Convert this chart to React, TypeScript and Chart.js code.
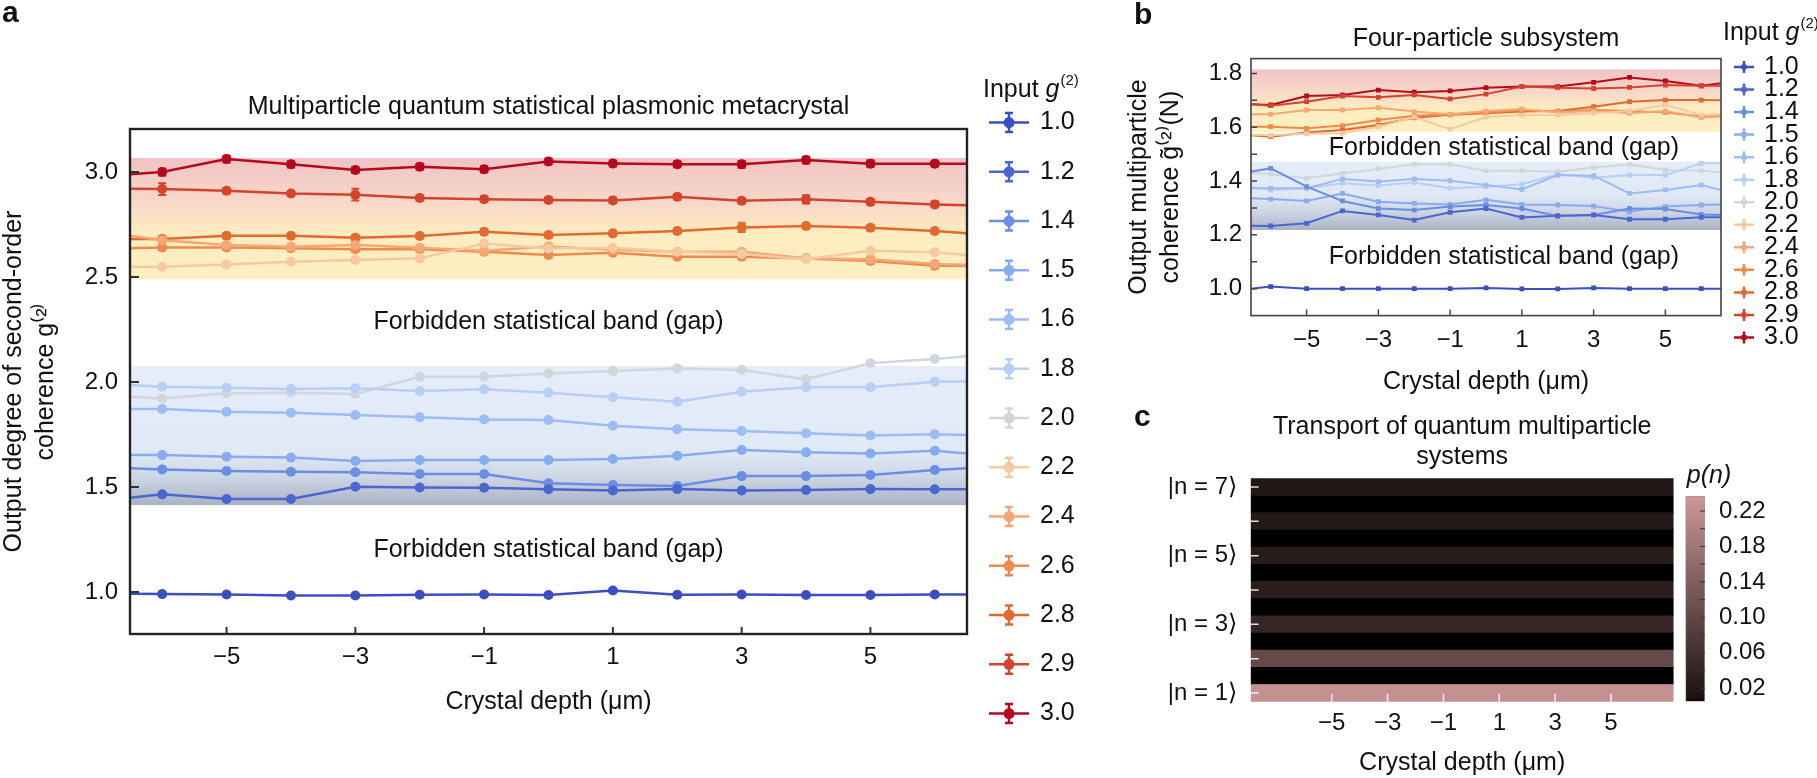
import React, { useEffect, useRef } from "react";
import { Chart, registerables } from "chart.js";

Chart.register(...registerables);

const FONT = "'Liberation Sans', Arial, Helvetica, sans-serif";
Chart.defaults.font.family = FONT;
Chart.defaults.font.size = 24;
Chart.defaults.color = "#111";

const inputs = ["1.0", "1.2", "1.4", "1.5", "1.6", "1.8", "2.0", "2.2", "2.4", "2.6", "2.8", "2.9", "3.0"];
const seriesColors = [
  "#3a4fc0", "#4b66cf", "#6b8ee3", "#88acf0", "#9cbcf4", "#b8cff4", "#d2d5da",
  "#f6c9a0", "#f4a874", "#ef8a4f", "#e2692f", "#d4432c", "#b5091f",
];

// crystal depth (µm); first and last entries are where the lines meet the frame
const depthsA = [-6.5, -6, -5, -4, -3, -2, -1, 0, 1, 2, 3, 4, 5, 6, 6.5];
const depthsB = [-6.55, -6, -5, -4, -3, -2, -1, 0, 1, 2, 3, 4, 5, 6, 6.55];

const xTicks = [-5, -3, -1, 1, 3, 5];
const yTicksA = [1.0, 1.5, 2.0, 2.5, 3.0];
const yTicksB = [1.0, 1.2, 1.4, 1.6, 1.8];
const yMinorB = [1.0, 1.1, 1.2, 1.3, 1.4, 1.5, 1.6, 1.7, 1.8];

// panel a: output g(2) per input g(2)
const a10 = [0.992, 0.99, 0.988, 0.983, 0.983, 0.987, 0.988, 0.986, 1.007, 0.987, 0.988, 0.986, 0.986, 0.988, 0.988];
const a12 = [1.449, 1.465, 1.443, 1.443, 1.501, 1.498, 1.497, 1.489, 1.483, 1.49, 1.483, 1.486, 1.49, 1.489, 1.489];
const a14 = [1.589, 1.584, 1.576, 1.573, 1.57, 1.562, 1.562, 1.518, 1.51, 1.505, 1.552, 1.552, 1.557, 1.581, 1.589];
const a15 = [1.652, 1.652, 1.644, 1.64, 1.624, 1.629, 1.629, 1.629, 1.633, 1.649, 1.676, 1.665, 1.66, 1.673, 1.66];
const a16 = [1.871, 1.871, 1.859, 1.854, 1.843, 1.832, 1.822, 1.819, 1.792, 1.775, 1.767, 1.756, 1.745, 1.751, 1.748];
const a18 = [1.986, 1.978, 1.973, 1.967, 1.97, 1.957, 1.965, 1.949, 1.927, 1.906, 1.954, 1.975, 1.975, 2.001, 2.003];
const a20 = [1.93, 1.922, 1.946, 1.949, 1.943, 2.025, 2.025, 2.041, 2.052, 2.065, 2.057, 2.013, 2.09, 2.11, 2.123];
const a22 = [2.549, 2.549, 2.56, 2.573, 2.581, 2.589, 2.66, 2.636, 2.64, 2.62, 2.61, 2.585, 2.625, 2.618, 2.605];
const a24 = [2.697, 2.675, 2.652, 2.644, 2.652, 2.64, 2.625, 2.645, 2.63, 2.62, 2.62, 2.59, 2.585, 2.562, 2.558];
const a26 = [2.637, 2.641, 2.641, 2.637, 2.632, 2.632, 2.621, 2.605, 2.616, 2.597, 2.597, 2.588, 2.576, 2.554, 2.554];
const a28 = [2.681, 2.681, 2.697, 2.697, 2.687, 2.695, 2.716, 2.7, 2.708, 2.719, 2.736, 2.743, 2.735, 2.719, 2.708];
const a29 = [2.92, 2.919, 2.911, 2.898, 2.892, 2.876, 2.871, 2.867, 2.865, 2.882, 2.863, 2.87, 2.858, 2.846, 2.842];
const a30 = [2.99, 3.0, 3.062, 3.037, 3.01, 3.025, 3.013, 3.05, 3.041, 3.037, 3.037, 3.057, 3.04, 3.04, 3.04];
const seriesA = [a10, a12, a14, a15, a16, a18, a20, a22, a24, a26, a28, a29, a30];

// error bar half-heights (one per series, or one per marker)
const err28 = [0.012, 0.012, 0.012, 0.012, 0.012, 0.012, 0.012, 0.012, 0.012, 0.022, 0.012, 0.012, 0.012];
const err29 = [0.028, 0.012, 0.012, 0.028, 0.012, 0.012, 0.012, 0.012, 0.014, 0.012, 0.02, 0.014, 0.014];
const err30 = [0.016, 0.016, 0.015, 0.014, 0.014, 0.015, 0.014, 0.014, 0.014, 0.016, 0.016, 0.015, 0.012];
const errorsA = [0.008, 0.009, 0.009, 0.009, 0.009, 0.009, 0.009, 0.011, 0.012, 0.012, err28, err29, err30];

// panel b: four-particle coherence
const b10 = [1.0, 1.008, 1.0, 1.0, 1.0, 1.0, 1.0, 1.003, 0.999, 0.999, 1.003, 1.0, 1.0, 1.0, 1.0];
const b12 = [1.234, 1.233, 1.243, 1.289, 1.274, 1.255, 1.284, 1.298, 1.265, 1.271, 1.274, 1.258, 1.258, 1.265, 1.265];
const b14 = [1.435, 1.447, 1.379, 1.326, 1.298, 1.292, 1.305, 1.311, 1.298, 1.27, 1.274, 1.298, 1.296, 1.276, 1.274];
const b15 = [1.336, 1.333, 1.326, 1.354, 1.323, 1.317, 1.313, 1.33, 1.313, 1.311, 1.307, 1.286, 1.305, 1.311, 1.313];
const b16 = [1.373, 1.373, 1.373, 1.408, 1.398, 1.408, 1.401, 1.385, 1.369, 1.422, 1.42, 1.354, 1.367, 1.385, 1.367];
const b18 = [1.379, 1.367, 1.373, 1.392, 1.383, 1.395, 1.373, 1.379, 1.388, 1.425, 1.412, 1.422, 1.422, 1.466, 1.466];
const b20 = [1.432, 1.425, 1.41, 1.429, 1.445, 1.462, 1.462, 1.438, 1.438, 1.435, 1.45, 1.462, 1.441, 1.438, 1.432];
const b22 = [1.572, 1.57, 1.576, 1.578, 1.602, 1.638, 1.593, 1.638, 1.645, 1.645, 1.652, 1.66, 1.683, 1.645, 1.648];
const b24 = [1.648, 1.648, 1.664, 1.664, 1.672, 1.658, 1.648, 1.66, 1.668, 1.655, 1.66, 1.652, 1.66, 1.636, 1.64];
const b26 = [1.602, 1.602, 1.596, 1.606, 1.627, 1.643, 1.648, 1.655, 1.664, 1.658, 1.664, 1.66, 1.655, 1.64, 1.645];
const b28 = [1.57, 1.565, 1.58, 1.59, 1.608, 1.635, 1.646, 1.652, 1.658, 1.66, 1.676, 1.695, 1.701, 1.701, 1.7];
const b29 = [1.685, 1.68, 1.695, 1.716, 1.711, 1.72, 1.705, 1.723, 1.751, 1.747, 1.744, 1.748, 1.757, 1.754, 1.754];
const b30 = [1.685, 1.683, 1.716, 1.72, 1.738, 1.73, 1.735, 1.747, 1.751, 1.751, 1.767, 1.785, 1.772, 1.754, 1.763];
const seriesB = [b10, b12, b14, b15, b16, b18, b20, b22, b24, b26, b28, b29, b30];

// allowed statistical bands [from, to]
const upperBandA = [2.49, 3.067];
const lowerBandA = [1.414, 2.076];
const upperBandB = [1.583, 1.815];
const lowerBandB = [1.218, 1.472];

// panel c: photon-number distribution rows (top to bottom) and their p(n)
const rowsC = ["7", "6.5", "6", "5.5", "5", "4.5", "4", "3.5", "3", "2.5", "2", "1.5", "1"];
const pRowsC = [0.018, 0, 0.021, 0, 0.026, 0, 0.031, 0, 0.042, 0, 0.105, 0, 0.226];
const depthMinC = -7.9;
const depthMaxC = 7.24;
const cellEdgesC = [-6.458, -5.737, -5.016, -4.295, -3.574, 0.031, 0.752, 1.473, 2.194, 5.799, 6.52];
const cbMin = 0.005;
const cbMax = 0.237;
const cbTicks = [0.02, 0.06, 0.1, 0.14, 0.18, 0.22];
const cbMinor = [0.02, 0.04, 0.06, 0.08, 0.1, 0.12, 0.14, 0.16, 0.18, 0.2, 0.22];

const gapLabel = "Forbidden statistical band (gap)";

const cmapStops: [number, number[]][] = [
  [0, [0, 0, 0]],
  [0.01, [28, 18, 18]],
  [0.24, [206, 153, 153]],
];
function cmap(v: number) {
  for (let i = 1; i < cmapStops.length; i++) {
    const [v1, c1] = cmapStops[i];
    const [v0, c0] = cmapStops[i - 1];
    if (v <= v1 || i === cmapStops.length - 1) {
      const t = Math.max(0, Math.min(1, (v - v0) / (v1 - v0)));
      const c = c0.map((x, k) => Math.round(x + (c1[k] - x) * t));
      return `rgb(${c[0]},${c[1]},${c[2]})`;
    }
  }
  return "#000";
}

const fmtDepth = (v: any) => (Number(v) < 0 ? "\u2212" + Math.abs(Number(v)) : String(v));
const fixedTicks = (vals: number[]) => (s: any) => {
  s.ticks = vals.map((value) => ({ value }));
};

// ---------- plugins ----------
const bandsPlugin = {
  id: "bands",
  beforeDatasetsDraw(chart: any, _a: any, o: any) {
    if (!o || !o.items) return;
    const { ctx, chartArea: ca } = chart;
    const y = chart.scales.y;
    ctx.save();
    ctx.beginPath();
    ctx.rect(ca.left, ca.top, ca.right - ca.left, ca.bottom - ca.top);
    ctx.clip();
    for (const b of o.items) {
      const top = y.getPixelForValue(b.range[1]);
      const bot = y.getPixelForValue(b.range[0]);
      const g = ctx.createLinearGradient(0, top, 0, bot);
      b.stops.forEach(([off, col]: [number, string]) => g.addColorStop(off, col));
      ctx.fillStyle = g;
      ctx.fillRect(ca.left, top, ca.right - ca.left, bot - top);
    }
    ctx.restore();
  },
};

const errorBarsPlugin = {
  id: "errorBars",
  afterDatasetDraw(chart: any, args: any, o: any) {
    const ds = chart.data.datasets[args.index];
    if (ds.errors == null) return;
    const { ctx } = chart;
    const y = chart.scales.y;
    const pts = args.meta.data;
    ctx.save();
    ctx.strokeStyle = ds.borderColor;
    ctx.lineWidth = o.width || 2;
    ctx.beginPath();
    pts.forEach((pt: any, i: number) => {
      if (i === 0 || i === pts.length - 1) return;
      const e = Array.isArray(ds.errors) ? ds.errors[i - 1] : ds.errors;
      const v = ds.data[i].y;
      const yt = y.getPixelForValue(v + e);
      const yb = y.getPixelForValue(v - e);
      const c = o.cap || 4;
      ctx.moveTo(pt.x, yt);
      ctx.lineTo(pt.x, yb);
      ctx.moveTo(pt.x - c, yt);
      ctx.lineTo(pt.x + c, yt);
      ctx.moveTo(pt.x - c, yb);
      ctx.lineTo(pt.x + c, yb);
    });
    ctx.stroke();
    ctx.restore();
  },
};

const innerTicksPlugin = {
  id: "innerTicks",
  afterDatasetsDraw(chart: any, _a: any, o: any) {
    if (!o || !o.items) return;
    const { ctx, chartArea: ca } = chart;
    ctx.save();
    for (const it of o.items) {
      const s = chart.scales[it.axis];
      ctx.strokeStyle = it.color;
      ctx.lineWidth = it.width;
      ctx.beginPath();
      for (const v of it.values) {
        const p = s.getPixelForValue(v);
        if (s.isHorizontal()) {
          ctx.moveTo(p, ca.bottom);
          ctx.lineTo(p, ca.bottom - it.len);
        } else if (it.side === "right") {
          ctx.moveTo(ca.right, p);
          ctx.lineTo(ca.right - it.len, p);
        } else {
          ctx.moveTo(ca.left, p);
          ctx.lineTo(ca.left + it.len, p);
        }
      }
      ctx.stroke();
    }
    ctx.restore();
  },
};

const framePlugin = {
  id: "frame",
  afterDraw(chart: any, _a: any, o: any) {
    if (!o || !o.color) return;
    const { ctx, chartArea: ca } = chart;
    ctx.save();
    ctx.strokeStyle = o.color;
    ctx.lineWidth = o.width;
    ctx.strokeRect(ca.left, ca.top, ca.right - ca.left, ca.bottom - ca.top);
    ctx.restore();
  },
};

const textsPlugin = {
  id: "texts",
  afterDraw(chart: any, _a: any, o: any) {
    if (!o || !o.items) return;
    const { ctx, scales } = chart;
    ctx.save();
    for (const t of o.items) {
      const x = t.px ? t.x : scales.x.getPixelForValue(t.x);
      const y = t.px ? t.y : scales.y.getPixelForValue(t.y);
      ctx.font = t.font || `25px ${FONT}`;
      ctx.fillStyle = t.color || "#111";
      ctx.textAlign = t.align || "center";
      ctx.textBaseline = t.baseline || "middle";
      ctx.fillText(t.text, x, y);
    }
    ctx.restore();
  },
};

function drawInputTitle(ctx: CanvasRenderingContext2D, x: number, y: number) {
  ctx.fillStyle = "#111";
  ctx.textAlign = "left";
  ctx.textBaseline = "alphabetic";
  ctx.font = `25px ${FONT}`;
  ctx.fillText("Input ", x, y);
  let w = ctx.measureText("Input ").width;
  ctx.font = `italic 25px ${FONT}`;
  ctx.fillText("g", x + w, y);
  w += ctx.measureText("g").width + 1;
  ctx.font = `15px ${FONT}`;
  ctx.fillText("(2)", x + w, y - 12);
}

const sideLegendPlugin = {
  id: "sideLegend",
  afterDraw(chart: any, _a: any, o: any) {
    if (!o || o.y0 == null) return;
    const { ctx } = chart;
    ctx.save();
    drawInputTitle(ctx, o.titleX, o.titleY);
    chart.data.datasets.forEach((ds: any, i: number) => {
      const cy = o.y0 + i * o.dy;
      const cx = o.markerX;
      ctx.strokeStyle = ds.borderColor;
      ctx.fillStyle = ds.borderColor;
      ctx.lineWidth = 2.5;
      ctx.beginPath();
      ctx.moveTo(cx - o.half, cy);
      ctx.lineTo(cx + o.half, cy);
      ctx.moveTo(cx, cy - o.err);
      ctx.lineTo(cx, cy + o.err);
      if (o.cap) {
        ctx.moveTo(cx - o.cap, cy - o.err);
        ctx.lineTo(cx + o.cap, cy - o.err);
        ctx.moveTo(cx - o.cap, cy + o.err);
        ctx.lineTo(cx + o.cap, cy + o.err);
      }
      ctx.stroke();
      if (o.kind === "circle") {
        ctx.beginPath();
        ctx.arc(cx, cy, 5.5, 0, Math.PI * 2);
        ctx.fill();
      } else {
        ctx.fillRect(cx - 2.5, cy - 2.5, 5, 5);
      }
      ctx.fillStyle = "#111";
      ctx.font = `25px ${FONT}`;
      ctx.textAlign = "left";
      ctx.textBaseline = "middle";
      ctx.fillText(ds.label, o.textX, cy);
    });
    ctx.restore();
  },
};

function lineSets(depths: number[], series: number[][], width: number, radius: number, style: string, errors?: any[]) {
  return series.map((vals, k) => ({
    label: inputs[k],
    data: depths.map((x, i) => ({ x, y: vals[i] })),
    borderColor: seriesColors[k],
    backgroundColor: seriesColors[k],
    borderWidth: width,
    pointStyle: style,
    pointRadius: depths.map((_, i) => (i === 0 || i === depths.length - 1 ? 0 : radius)),
    pointBorderWidth: 0,
    pointHoverRadius: 0,
    errors: errors ? errors[k] : undefined,
  }));
}

const upperStops = [[0, "#f1c3c5"], [0.42, "#f9dcc8"], [0.62, "#fdecc0"], [1, "#fdf0c2"]];
const lowerStopsA = [[0, "#e4edf9"], [0.62, "#e0e9f6"], [0.8, "#cdd6e4"], [1, "#aab3c5"]];
const lowerStopsB = [[0, "#e4edf9"], [0.5, "#e0e8f4"], [0.76, "#cbd3e1"], [1, "#a9b2c4"]];

const tickFont = { size: 24, family: FONT };
const titleFont = { size: 25, family: FONT, weight: "normal" as const };

function configA(): any {
  return {
    type: "line",
    data: { datasets: lineSets(depthsA, seriesA, 2.5, 5, "circle", errorsA) },
    options: {
      animation: false,
      responsive: false,
      events: [],
      layout: { padding: { left: 0, right: 153, top: 0, bottom: 0 } },
      scales: {
        x: {
          type: "linear",
          min: -6.5,
          max: 6.5,
          afterBuildTicks: fixedTicks(xTicks),
          ticks: { callback: fmtDepth, font: tickFont, color: "#111", padding: 9, maxRotation: 0, autoSkip: false },
          grid: { display: false, drawTicks: false },
          border: { display: false },
          title: { display: true, text: "Crystal depth (\u03bcm)", font: titleFont, color: "#111", padding: { top: 0, bottom: 61 } },
          afterFit: (s: any) => { s.height = 144; },
        },
        y: {
          type: "linear",
          min: 0.8,
          max: 3.205,
          afterBuildTicks: fixedTicks(yTicksA),
          ticks: { callback: (v: any) => Number(v).toFixed(1), font: tickFont, color: "#111", padding: 12 },
          grid: { display: false, drawTicks: false },
          border: { display: false },
          title: {
            display: true,
            text: ["Output degree of second-order", "coherence g\u207d\u00b2\u207e"],
            font: { ...titleFont, lineHeight: 1.28 },
            color: "#111",
            padding: { top: -2, bottom: 0 },
          },
          afterFit: (s: any) => { s.width = 130; },
        },
      },
      plugins: {
        legend: { display: false },
        tooltip: { enabled: false },
        title: {
          display: true,
          fullSize: false,
          text: "Multiparticle quantum statistical plasmonic metacrystal",
          font: titleFont,
          color: "#111",
          padding: { top: 92, bottom: 7 },
        },
        bands: {
          items: [
            { range: upperBandA, stops: upperStops },
            { range: lowerBandA, stops: lowerStopsA },
          ],
        },
        errorBars: { width: 2, cap: 4 },
        innerTicks: {
          items: [
            { axis: "x", values: xTicks, len: 7, color: "#333", width: 2 },
            { axis: "y", values: yTicksA, len: 9, color: "#333", width: 2 },
          ],
        },
        frame: { color: "#232323", width: 2.4 },
        texts: {
          items: [
            { text: gapLabel, x: 0, y: 2.283 },
            { text: gapLabel, x: 0, y: 1.2 },
            { text: "a", px: true, x: 2, y: 22, font: `bold 30px ${FONT}`, align: "left", baseline: "alphabetic" },
          ],
        },
        sideLegend: { kind: "circle", titleX: 983, titleY: 97, y0: 122.6, dy: 49.25, markerX: 1009, half: 20, err: 9.5, cap: 4, textX: 1040 },
      },
    },
    plugins: [bandsPlugin, errorBarsPlugin, innerTicksPlugin, framePlugin, textsPlugin, sideLegendPlugin],
  };
}

function configB(): any {
  return {
    type: "line",
    data: { datasets: lineSets(depthsB, seriesB, 2, 3.4, "rect") },
    options: {
      animation: false,
      responsive: false,
      events: [],
      layout: { padding: { left: 0, right: 96, top: 0, bottom: 0 } },
      scales: {
        x: {
          type: "linear",
          min: -6.55,
          max: 6.55,
          afterBuildTicks: fixedTicks(xTicks),
          ticks: { callback: fmtDepth, font: tickFont, color: "#111", padding: 10, maxRotation: 0, autoSkip: false },
          grid: { display: false, drawTicks: false },
          border: { display: false },
          title: { display: true, text: "Crystal depth (\u03bcm)", font: titleFont, color: "#111", padding: { top: 0, bottom: 23 } },
          afterFit: (s: any) => { s.height = 104.4; },
        },
        y: {
          type: "linear",
          min: 0.9,
          max: 1.855,
          afterBuildTicks: fixedTicks(yTicksB),
          ticks: { callback: (v: any) => Number(v).toFixed(1), font: tickFont, color: "#111", padding: 9 },
          grid: { display: false, drawTicks: false },
          border: { display: false },
          title: {
            display: true,
            text: ["Output multiparticle", "coherence g\u0303\u207d\u00b2\u207e(N)"],
            font: { ...titleFont, lineHeight: 1.28 },
            color: "#111",
            padding: { top: 3, bottom: 0 },
          },
          afterFit: (s: any) => { s.width = 131; },
        },
      },
      plugins: {
        legend: { display: false },
        tooltip: { enabled: false },
        title: {
          display: true,
          fullSize: false,
          text: "Four-particle subsystem",
          font: titleFont,
          color: "#111",
          padding: { top: 23.7, bottom: 4.9 },
        },
        bands: {
          items: [
            { range: upperBandB, stops: upperStops },
            { range: lowerBandB, stops: lowerStopsB },
          ],
        },
        innerTicks: {
          items: [
            { axis: "x", values: xTicks, len: 6, color: "#444", width: 1.5 },
            { axis: "y", values: yMinorB, len: 6, color: "#444", width: 1.5 },
          ],
        },
        frame: { color: "#444", width: 1.6 },
        texts: {
          items: [
            { text: gapLabel, x: 0.5, y: 1.523 },
            { text: gapLabel, x: 0.5, y: 1.117 },
            { text: "b", px: true, x: 14, y: 24, font: `bold 30px ${FONT}`, align: "left", baseline: "alphabetic" },
          ],
        },
        sideLegend: { kind: "rect", titleX: 603, titleY: 40, y0: 67, dy: 22.54, markerX: 624, half: 10, err: 6, cap: 0, textX: 644 },
      },
    },
    plugins: [bandsPlugin, innerTicksPlugin, framePlugin, textsPlugin, sideLegendPlugin],
  };
}

function configC(): any {
  return {
    type: "bar",
    data: {
      labels: rowsC,
      datasets: [
        {
          data: rowsC.map(() => [depthMinC, depthMaxC]),
          backgroundColor: pRowsC.map(cmap),
          borderWidth: 0,
          barPercentage: 1,
          categoryPercentage: 1,
        },
      ],
    },
    options: {
      animation: false,
      responsive: false,
      events: [],
      indexAxis: "y",
      layout: { padding: { left: 0, right: 6.4, top: 0, bottom: 0 } },
      scales: {
        x: {
          type: "linear",
          min: depthMinC,
          max: depthMaxC,
          afterBuildTicks: fixedTicks(xTicks),
          ticks: { callback: fmtDepth, font: tickFont, color: "#111", padding: 7, maxRotation: 0, autoSkip: false },
          grid: { display: false, drawTicks: false },
          border: { display: false },
          title: { display: true, text: "Crystal depth (\u03bcm)", font: titleFont, color: "#111", padding: { top: 0, bottom: 0 } },
          afterFit: (s: any) => { s.height = 76.3; },
        },
        xg: {
          type: "linear",
          position: "top",
          display: true,
          min: depthMinC,
          max: depthMaxC,
          afterBuildTicks: fixedTicks(cellEdgesC),
          ticks: { display: false },
          grid: { color: "rgba(255,255,255,0.13)", lineWidth: 1, drawTicks: false },
          border: { display: false },
          z: 1,
          afterFit: (s: any) => { s.height = 0; },
        },
        y: {
          type: "category",
          ticks: {
            autoSkip: false,
            font: tickFont,
            color: "#111",
            padding: 13.7,
            callback: (_v: any, i: number) => {
              const n = Number(rowsC[i]);
              return Number.isInteger(n) && n % 2 === 1 ? `|n = ${n}\u27e9` : "";
            },
          },
          grid: { display: false, drawTicks: false },
          border: { display: false },
          afterFit: (s: any) => { s.width = 130.7; },
        },
      },
      plugins: {
        legend: { display: false },
        tooltip: { enabled: false },
        title: {
          display: true,
          fullSize: false,
          text: ["Transport of quantum multiparticle", "systems"],
          font: titleFont,
          color: "#111",
          padding: { top: 12, bottom: 6.3 },
        },
        innerTicks: {
          items: [
            { axis: "x", values: xTicks, len: 8, color: "rgba(255,255,255,0.85)", width: 1.5 },
            { axis: "y", values: [0, 2, 4, 6, 8, 10, 12], len: 8, color: "rgba(255,255,255,0.85)", width: 1.5 },
          ],
        },
        texts: {
          items: [{ text: "c", px: true, x: 14, y: 26, font: `bold 30px ${FONT}`, align: "left", baseline: "alphabetic" }],
        },
      },
    },
    plugins: [innerTicksPlugin, textsPlugin],
  };
}

function configD(): any {
  return {
    type: "bar",
    data: {
      labels: [""],
      datasets: [
        {
          data: [[cbMin, cbMax]],
          backgroundColor: (c: any) => {
            const { chart } = c;
            if (!chart.chartArea) return "#000";
            const y = chart.scales.y;
            const g = chart.ctx.createLinearGradient(0, y.getPixelForValue(cbMin), 0, y.getPixelForValue(cbMax));
            [cbMin, 0.01, 0.06, 0.12, 0.18, cbMax].forEach((v) => g.addColorStop((v - cbMin) / (cbMax - cbMin), cmap(v)));
            return g;
          },
          borderColor: "#9a9a9a",
          borderWidth: 1,
          borderSkipped: false,
          barPercentage: 1,
          categoryPercentage: 1,
        },
      ],
    },
    options: {
      animation: false,
      responsive: false,
      events: [],
      layout: { padding: { left: 15.4, right: 0, top: 56, bottom: 22.7 } },
      scales: {
        x: { display: false },
        y: {
          position: "right",
          min: cbMin,
          max: cbMax,
          afterBuildTicks: fixedTicks(cbTicks),
          ticks: { callback: (v: any) => Number(v).toFixed(2), font: tickFont, color: "#111", padding: 14 },
          grid: { display: false, drawTicks: false },
          border: { display: false },
          afterFit: (s: any) => { s.width = 112; },
        },
      },
      plugins: {
        legend: { display: false },
        tooltip: { enabled: false },
        innerTicks: {
          items: [{ axis: "y", side: "right", values: cbMinor, len: 5, color: "#333", width: 1 }],
        },
        texts: {
          items: [{ text: "p(n)", px: true, x: 39, y: 36, font: `italic 25px ${FONT}` }],
        },
      },
    },
    plugins: [innerTicksPlugin, textsPlugin],
  };
}

export default function App() {
  const refA = useRef<HTMLCanvasElement>(null);
  const refB = useRef<HTMLCanvasElement>(null);
  const refC = useRef<HTMLCanvasElement>(null);
  const refD = useRef<HTMLCanvasElement>(null);

  useEffect(() => {
    document.body.style.margin = "0";
    const charts: Chart[] = [];
    if (refA.current) charts.push(new Chart(refA.current, configA()));
    if (refB.current) charts.push(new Chart(refB.current, configB()));
    if (refC.current) charts.push(new Chart(refC.current, configC()));
    if (refD.current) charts.push(new Chart(refD.current, configD()));
    return () => charts.forEach((c) => c.destroy());
  }, []);

  return (
    <div style={{ position: "relative", width: 1817, height: 778, background: "#fff", overflow: "hidden" }}>
      <canvas ref={refA} width={1120} height={778} style={{ position: "absolute", left: 0, top: 0 }} />
      <canvas ref={refB} width={697} height={420} style={{ position: "absolute", left: 1120, top: 0 }} />
      <canvas ref={refC} width={560} height={378} style={{ position: "absolute", left: 1120, top: 400 }} />
      <canvas ref={refD} width={147} height={290} style={{ position: "absolute", left: 1670, top: 440 }} />
    </div>
  );
}
